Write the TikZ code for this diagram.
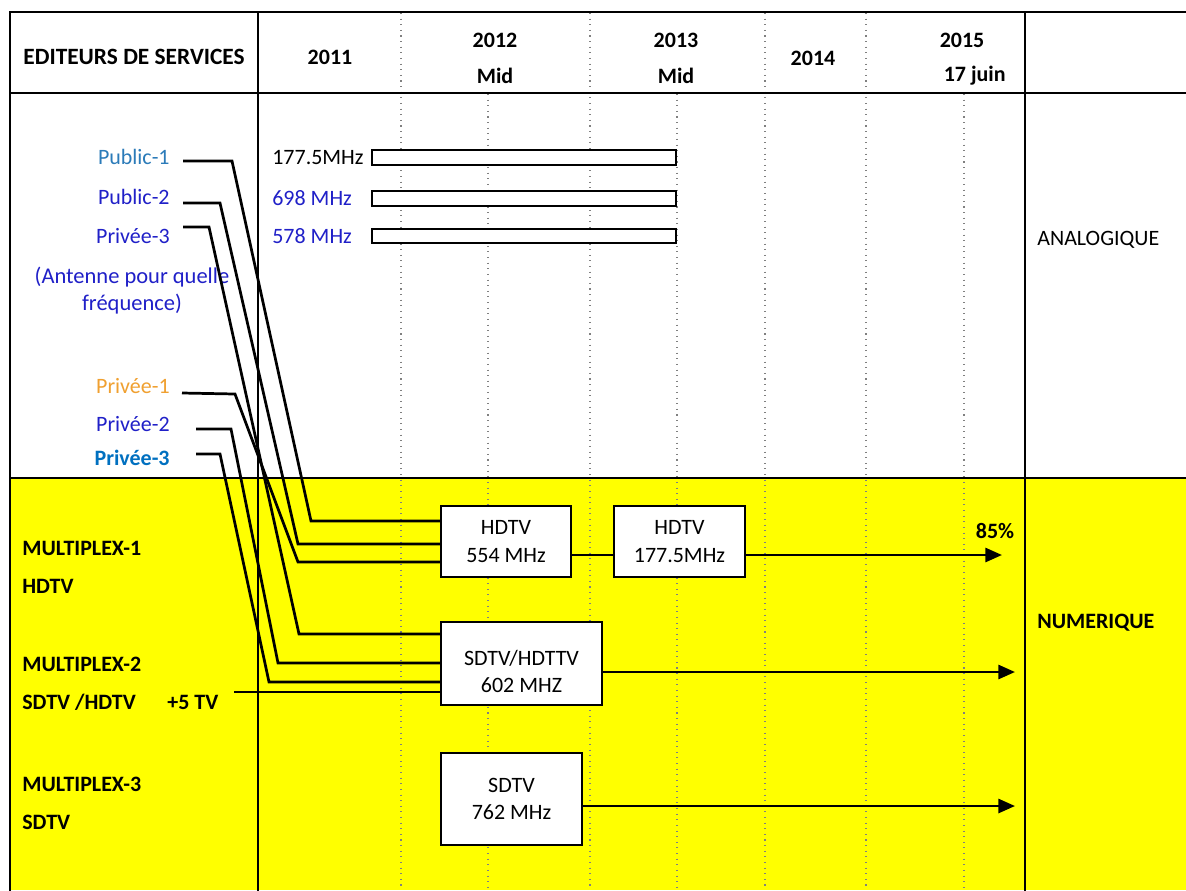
\documentclass[tikz,border=0pt]{standalone}
\usepackage{fontspec}
\setmainfont{Carlito}
\usetikzlibrary{arrows.meta,calc}
\definecolor{pubA}{HTML}{2B7BB9}
\definecolor{blu}{HTML}{2020C8}
\definecolor{org}{HTML}{F0A030}
\definecolor{pvt}{HTML}{0070C0}
\definecolor{yel}{HTML}{FFFF00}
\begin{document}
\begin{tikzpicture}[x=0.02cm,y=-0.02cm,
 font=\fontsize{12.5}{15}\selectfont,
 tline/.style={line width=0.85pt},
 dots/.style={black!50, line width=0.6pt, dash pattern=on 0.6pt off 2.6pt},
 conn/.style={line width=1.55pt},
 box/.style={draw, line width=1.35pt, fill=white, align=center, inner sep=0pt, font=\fontsize{12.5}{15.5}\selectfont},
 bar/.style={draw, line width=1.2pt, fill=white},
 arr/.style={line width=1.55pt, -{Triangle[length=9.5pt,width=8pt]}},
 hd/.style={font=\fontsize{12.5}{15}\selectfont\bfseries, inner sep=0pt},
 lab/.style={anchor=east, inner sep=0pt},
 labw/.style={anchor=west, inner sep=0pt},
 ]
\useasboundingbox (0,0) rectangle (1186,890);
\fill[white] (0,0) rectangle (1186,890);
\fill[yel] (10,478) rectangle (1186,890);

% dotted time lines
\foreach \x in {401,590,765,866} \draw[dots] (\x,13) -- (\x,890);
\foreach \x in {488,677,964} \draw[dots] (\x,94) -- (\x,890);

% table lines
\draw[tline] (1190,12) -- (10,12) -- (10,892);
\draw[tline] (10,93) -- (1190,93);
\draw[tline] (10,478) -- (1190,478);
\draw[tline] (258,12) -- (258,892);
\draw[tline] (1025,12) -- (1025,892);

% header
\node[hd, font=\fontsize{13.3}{15}\selectfont\bfseries] (hEd) at (134,57) {EDITEURS DE SERVICES};
\node[hd] (h11) at (330,57) {2011};
\node[hd] (h12) at (495,40) {2012};
\node[hd] (h12m) at (495,76) {Mid};
\node[hd] (h13) at (676,40) {2013};
\node[hd] (h13m) at (676,76) {Mid};
\node[hd] (h14) at (813,58) {2014};
\node[hd] (h15) at (962,40) {2015};
\node[hd, anchor=east] (h15j) at (1006,76) {17 juin};

% service editors
\node[lab, text=pubA] (pub1) at (170,157) {Public-1};
\node[lab, text=blu] (pub2) at (170,197) {Public-2};
\node[lab, text=blu] (pv3a) at (170,236) {Privée-3};
\node[text=blu, align=center, inner sep=0pt, font=\fontsize{12.8}{15.3}\selectfont] (ant) at (132,291) {(Antenne pour quelle\\fréquence)};
\node[lab, text=org] (pv1) at (170,386) {Privée-1};
\node[lab, text=blu] (pv2) at (170,424) {Privée-2};
\node[lab, text=pvt, font=\fontsize{12.5}{15}\selectfont\bfseries] (pv3b) at (170,458) {Privée-3};

% analog frequencies
\node[labw] (f1) at (272,158) {177.5MHz};
\node[labw, text=blu] (f2) at (272,198) {698 MHz};
\node[labw, text=blu] (f3) at (272,236) {578 MHz};
\draw[bar] (372,150) rectangle (676,165);
\draw[bar] (372,191) rectangle (676,206);
\draw[bar] (372,229) rectangle (676,243);

% multiplex labels
\node[hd, anchor=west] (m1) at (22,548) {MULTIPLEX-1};
\node[hd, anchor=west] (m1b) at (22,586) {HDTV};
\node[hd, anchor=west] (m2) at (22,664) {MULTIPLEX-2};
\node[hd, anchor=west] (m2b) at (22,702) {SDTV /HDTV};
\node[hd, anchor=west] (tv5) at (167,702) {+5 TV};
\node[hd, anchor=west] (m3) at (22,784) {MULTIPLEX-3};
\node[hd, anchor=west] (m3b) at (22,822) {SDTV};

% right column
\node[labw] (ana) at (1037,240) {ANALOGIQUE};
\node[hd, anchor=west] (num) at (1037,623) {NUMERIQUE};

% connector coordinates
\coordinate (s1) at (183,161); \coordinate (k1) at (232,161); \coordinate (e1) at (311,521);
\coordinate (s2) at (183,203); \coordinate (k2) at (220,203); \coordinate (e2) at (298,544);
\coordinate (s3) at (183,227); \coordinate (k3) at (209,227); \coordinate (e3) at (299,634);
\coordinate (s4) at (182,393); \coordinate (k4) at (235,394); \coordinate (e4) at (298,562);
\coordinate (s5) at (196,429); \coordinate (k5) at (231,429); \coordinate (e5) at (278,663);
\coordinate (s6) at (196,454); \coordinate (k6) at (220,454); \coordinate (e6) at (269,682);
\coordinate (s7) at (234,692);
\coordinate (t1) at (1002,555);
\coordinate (t2) at (1015,672);
\coordinate (t3) at (1015,806);

% boxes
\node[box, minimum width=2.6cm, minimum height=1.42cm] (b1) at (506,541.5) {HDTV\\554 MHz};
\node[box, minimum width=2.62cm, minimum height=1.42cm] (b2) at (679.5,541.5) {HDTV\\177.5MHz};
\node[box, minimum width=3.22cm, minimum height=1.66cm] (b3) at (521.5,663.5) {\rule{0pt}{18pt}SDTV/HDTTV\\602 MHZ};
\node[box, minimum width=2.82cm, minimum height=1.84cm] (b4) at (511.5,799) {SDTV\\762 MHz};

% connectors
\draw[conn] (s1) -- (k1) -- (e1) -- (e1 -| b1.west);
\draw[conn] (s2) -- (k2) -- (e2) -- (e2 -| b1.west);
\draw[conn] (s3) -- (k3) -- (e3) -- (e3 -| b3.west);
\draw[conn] (s4) -- (k4) -- (e4) -- (e4 -| b1.west);
\draw[conn] (s5) -- (k5) -- (e5) -- (e5 -| b3.west);
\draw[conn] (s6) -- (k6) -- (e6) -- (e6 -| b3.west);
\draw[conn] (s7) -- (s7 -| b3.west);

\draw[conn] (b1.east |- t1) -- (b2.west |- t1);
\draw[arr] (b2.east |- t1) -- (t1);
\draw[arr] (b3.east |- t2) -- (t2);
\draw[arr] (b4.east |- t3) -- (t3);
\node[hd] (p85) at (995,531) {85\%};
\end{tikzpicture}
\end{document}
